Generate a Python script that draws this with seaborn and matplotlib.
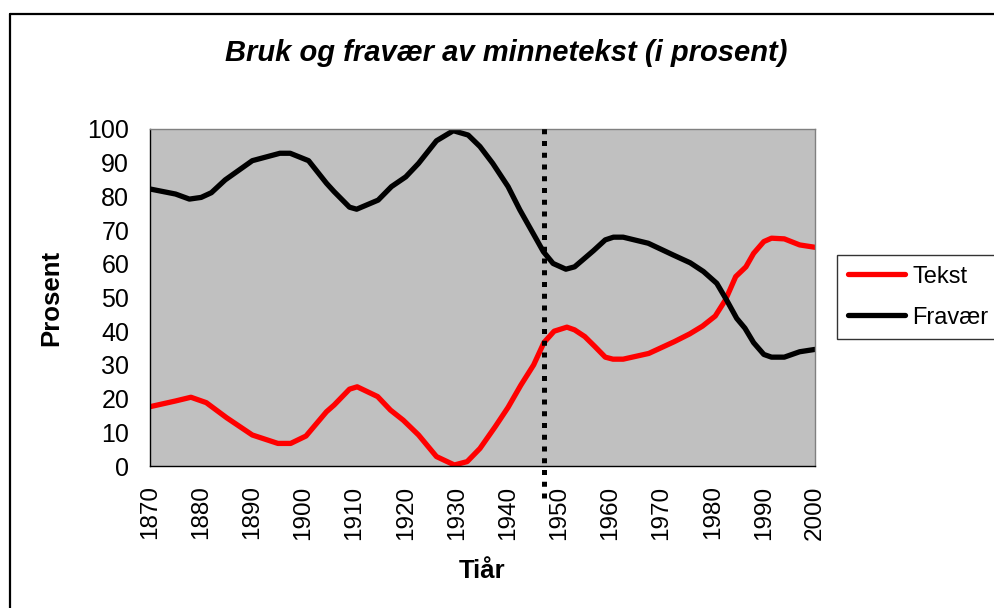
import matplotlib
matplotlib.use("Agg")
import matplotlib.pyplot as plt
import seaborn as sns
import pandas as pd
from matplotlib.lines import Line2D

# ---- data ----
tekst_years = [1870, 1875, 1878, 1881, 1885, 1890, 1895, 1897.5, 1900.5, 1904.5, 1906,
               1909, 1910.5, 1914.5, 1917, 1919.5, 1922.5, 1926, 1929.5, 1932, 1934.5,
               1937.5, 1940, 1942.5, 1945, 1947, 1949, 1951.5, 1953, 1955, 1957, 1959,
               1960.5, 1962.5, 1967.5, 1972.5, 1975.5, 1978, 1980.5, 1982.5, 1984.5,
               1986.5, 1988, 1990, 1991.5, 1994, 1997, 2000]
tekst = [17.6, 19.3, 20.4, 18.8, 14.3, 9.2, 6.7, 6.7, 8.9, 16.1, 18.1,
         22.8, 23.5, 20.6, 16.6, 13.6, 9.2, 2.8, 0.3, 1.3, 5.2,
         11.7, 17.4, 24.0, 30.0, 36.6, 40.0, 41.2, 40.4, 38.4, 35.4, 32.3,
         31.7, 31.7, 33.4, 36.9, 39.2, 41.5, 44.5, 49.3, 56.2,
         59.1, 63.1, 66.6, 67.6, 67.4, 65.6, 64.9]

fravaer_years = [1870, 1875, 1877.7, 1880, 1882, 1884.7, 1890, 1895.4, 1897.4, 1901,
                 1904.5, 1906, 1909, 1910.4, 1914.6, 1917.2, 1920, 1922.5, 1926, 1929.3,
                 1932.2, 1934.5, 1937, 1940, 1942.3, 1944.9, 1946.9, 1948.8, 1951.3, 1953,
                 1954.7, 1956.7, 1959, 1960.6, 1962.5, 1967.4, 1972.3, 1975.6, 1978.2,
                 1980.8, 1982.7, 1984.7, 1986.3, 1988, 1990, 1991.5, 1994, 1997, 2000]
fravaer = [82.2, 80.7, 79.2, 79.7, 81.1, 84.9, 90.6, 92.8, 92.8, 90.6,
           83.9, 81.4, 76.8, 76.2, 78.9, 82.9, 85.8, 89.8, 96.5, 99.5,
           98.2, 94.8, 89.8, 82.9, 76.0, 69.0, 63.6, 60.1, 58.4, 59.1,
           61.3, 63.9, 67.1, 67.9, 67.9, 66.1, 62.6, 60.3, 57.7,
           54.2, 49.3, 43.8, 40.9, 36.6, 33.1, 32.3, 32.3, 33.9, 34.6]

x_ticks = list(range(1870, 2001, 10))
y_ticks = list(range(0, 101, 10))
marker_year = 1947
series_names = ["Tekst", "Fravær"]
title = "Bruk og fravær av minnetekst (i prosent)"

# ---- styling ----
sns.set_style("white")
plt.rcParams["font.family"] = ["Liberation Sans", "DejaVu Sans"]
plt.rcParams["text.color"] = "black"
plt.rcParams["axes.labelcolor"] = "black"
plt.rcParams["xtick.color"] = "black"
plt.rcParams["ytick.color"] = "black"

fig = plt.figure(figsize=(9.94, 6.08), dpi=100)
ax = fig.add_axes([150 / 994, 1 - 466 / 608, 665 / 994, 337 / 608])
ax.set_facecolor("#C0C0C0")

df = pd.concat([
    pd.DataFrame({"År": tekst_years, "Prosent": tekst, "Serie": series_names[0]}),
    pd.DataFrame({"År": fravaer_years, "Prosent": fravaer, "Serie": series_names[1]}),
])
sns.lineplot(data=df, x="År", y="Prosent", hue="Serie", sort=False,
             palette={"Tekst": "#FF0000", "Fravær": "#000000"},
             linewidth=3.8, ax=ax, legend=False, estimator=None)
for l in ax.get_lines():
    l.set_solid_capstyle("round")
    l.set_solid_joinstyle("round")

ax.set_xlim(1870, 2000)
ax.set_ylim(0, 100)
ax.set_xticks(x_ticks)
ax.set_yticks(y_ticks)
ax.set_xticklabels([str(v) for v in x_ticks], rotation=90, fontsize=17.5)
ax.set_yticklabels([str(v) for v in y_ticks], fontsize=18)
ax.tick_params(axis="x", direction="inout", length=11, width=0.8, color="black", pad=8.5)
ax.tick_params(axis="y", direction="out", length=6, width=0.8, color="black", pad=9)

for side in ["left", "bottom"]:
    ax.spines[side].set_color("black")
    ax.spines[side].set_linewidth(1.0)
for side in ["top", "right"]:
    ax.spines[side].set_color("#808080")
    ax.spines[side].set_linewidth(1.0)

ax.set_xlabel("Tiår", fontsize=18.5, fontweight="bold", labelpad=14)
ax.set_ylabel("Prosent", fontsize=18.5, fontweight="bold", labelpad=17)

# dotted vertical marker, extends beyond plot area
ax.plot([marker_year, marker_year], [-9.5, 102.2], color="black", linewidth=3.6,
        linestyle=(0, (1, 1.35)), dash_capstyle="butt", clip_on=False, zorder=5)

fig.text(506 / 994, 1 - 53 / 608, title, fontsize=21, fontweight="bold",
         fontstyle="italic", ha="center", va="center")

handles = [Line2D([], [], color="#FF0000", linewidth=3.8, solid_capstyle="round"),
           Line2D([], [], color="#000000", linewidth=3.8, solid_capstyle="round")]
leg = fig.legend(handles, series_names, loc="upper left",
                 bbox_to_anchor=(837 / 994, 1 - 255 / 608), fontsize=17,
                 frameon=True, fancybox=False, edgecolor="black",
                 handlelength=2.45, handletextpad=0.3, labelspacing=0.8,
                 borderpad=0.45, borderaxespad=0)
leg.get_frame().set_linewidth(1.0)

# outer chart border (runs off the right and bottom edges)
fig.add_artist(Line2D([9.5 / 994, 9.5 / 994], [0, 1 - 13.5 / 608],
                      transform=fig.transFigure, color="black", linewidth=1.6))
fig.add_artist(Line2D([9.5 / 994, 1], [1 - 13.5 / 608, 1 - 13.5 / 608],
                      transform=fig.transFigure, color="black", linewidth=1.6))

fig.savefig("out.png", dpi=100)
